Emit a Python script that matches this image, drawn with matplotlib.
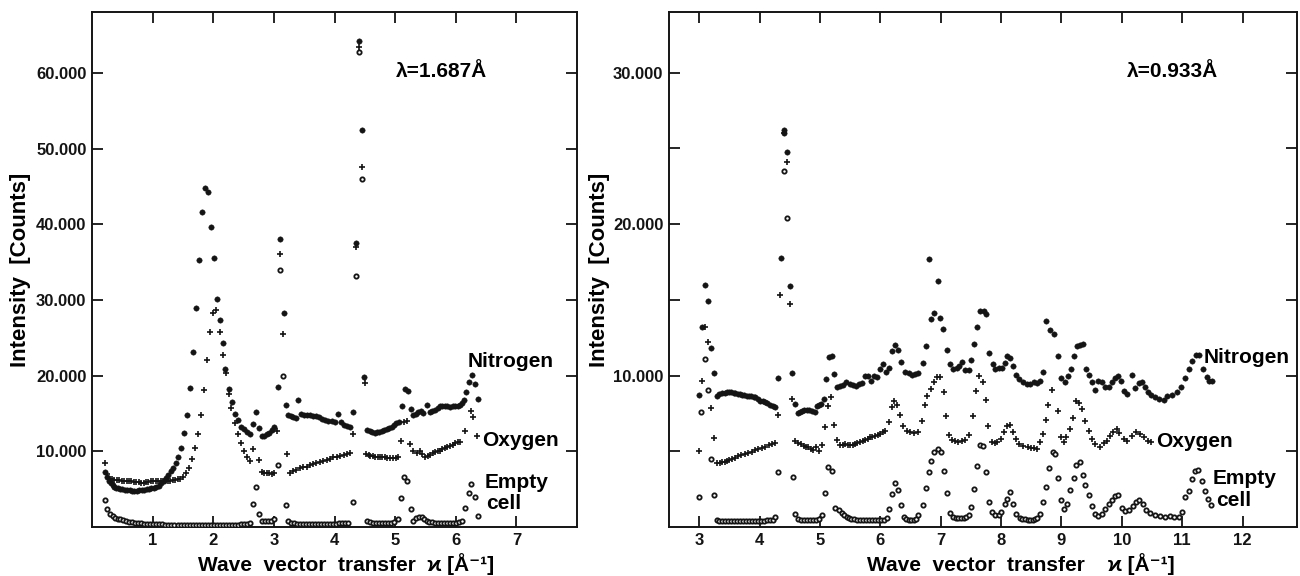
import numpy as np
import matplotlib
matplotlib.use('Agg')
import matplotlib.pyplot as plt

plt.rcParams['font.family'] = ['Liberation Sans Narrow', 'Liberation Sans', 'DejaVu Sans']
plt.rcParams['font.weight'] = 'bold'
plt.rcParams['axes.labelweight'] = 'bold'

INK = '#141414'

## left panel, lambda = 1.687 A : (kappa, counts)
n_left = [(0.22,7230),(0.25,6600),(0.28,6050),(0.31,5750),(0.34,5500),(0.37,5330),(0.40,5200),(0.43,5120),
    (0.46,5060),(0.50,4980),(0.54,4920),(0.58,4860),(0.62,4830),(0.66,4810),(0.70,4800),(0.74,4810),
    (0.78,4830),(0.82,4860),(0.86,4900),(0.90,4960),(0.94,5020),(0.98,5100),(1.02,5180),(1.06,5300),
    (1.10,5480),(1.14,5780),(1.18,6080),(1.22,6450),(1.26,6850),(1.30,7350),(1.34,7850),(1.38,8500),
    (1.42,9300),(1.46,10450),(1.51,12480),(1.56,14820),(1.61,18350),(1.66,23100),(1.71,28970),
    (1.76,35280),(1.81,41630),(1.86,44800),(1.91,44280),(1.96,39730),(2.01,35630),(2.06,30160),
    (2.11,27390),(2.16,24390),(2.20,20860),(2.26,18300),(2.31,16540),(2.36,14950),(2.40,14160),
    (2.45,13270),(2.50,12970),(2.55,12610),(2.61,12300),(2.66,13630),(2.70,15210),(2.76,13140),
    (2.80,12080),(2.84,12050),(2.88,12250),(2.92,12450),(2.96,12800),(3.00,13270),(3.06,18570),
    (3.10,38060),(3.16,28270),(3.20,16140),(3.24,14820),(3.28,14730),(3.32,14500),(3.36,14380),
    (3.40,16800),(3.45,14900),(3.50,14850),(3.55,14820),(3.60,14780),(3.65,14720),(3.70,14650),
    (3.75,14480),(3.80,14300),(3.85,14150),(3.90,14050),(3.95,13980),(4.00,13940),(4.05,14900),
    (4.10,13940),(4.15,13500),(4.20,13300),(4.25,13270),(4.30,15170),(4.36,37610),(4.41,64200),
    (4.445,52520),(4.49,19800),(4.54,12830),(4.58,12650),(4.62,12580),(4.66,12480),(4.70,12520),
    (4.74,12600),(4.78,12720),(4.82,12850),(4.86,12960),(4.90,13080),(4.94,13250),(4.98,13450),
    (5.02,13700),(5.06,13900),(5.11,16010),(5.17,18210),(5.21,18040),(5.26,15570),(5.30,14820),
    (5.34,14950),(5.38,15200),(5.42,15350),(5.46,15050),(5.52,16140),(5.57,15210),(5.61,15300),
    (5.66,15480),(5.70,15700),(5.74,16010),(5.78,16020),(5.82,16010),(5.86,15950),(5.91,15920),
    (5.95,15980),(5.99,16010),(6.03,16050),(6.07,16140),(6.10,16400),(6.13,16800),(6.17,17900),
    (6.21,19230),(6.26,20100),(6.31,18900),(6.36,16900)]

o_left = [(0.21,8420),(0.25,7000),(0.29,6350),(0.33,6280),(0.37,6240),(0.41,6210),(0.45,6170),(0.49,6130),
    (0.53,6100),(0.57,6080),(0.61,6050),(0.65,6020),(0.69,5980),(0.73,5950),(0.77,5920),(0.81,5880),
    (0.85,5870),(0.89,5920),(0.93,5990),(0.97,6020),(1.01,6040),(1.05,6040),(1.09,6040),(1.13,6040),
    (1.17,6050),(1.21,6080),(1.25,6110),(1.29,6140),(1.33,6180),(1.37,6220),(1.41,6280),(1.45,6350),
    (1.50,6660),(1.55,7100),(1.60,7850),(1.65,8950),(1.70,10400),(1.75,12260),(1.80,14860),
    (1.85,18130),(1.90,22050),(1.95,25750),(1.99,28360),(2.05,28710),(2.11,25840),(2.16,22710),
    (2.21,20420),(2.26,17550),(2.30,15700),(2.35,13800),(2.40,12300),(2.45,11160),(2.50,10010),
    (2.55,9300),(2.61,8730),(2.66,10280),(2.76,8860),(2.80,7320),(2.84,7200),(2.88,7150),(2.92,7100),
    (2.96,7020),(3.00,7200),(3.05,12700),(3.10,36120),(3.15,25530),(3.21,9660),(3.27,7190),
    (3.32,7410),(3.37,7580),(3.43,7760),(3.48,7870),(3.54,7980),(3.59,8150),(3.65,8330),(3.70,8480),
    (3.76,8640),(3.81,8750),(3.87,8860),(3.92,9000),(3.98,9220),(4.04,9300),(4.09,9450),(4.15,9500),
    (4.20,9620),(4.26,9750),(4.30,12300),(4.36,37060),(4.41,63500),(4.445,47590),(4.505,19000),
    (4.52,9660),(4.56,9550),(4.59,9440),(4.63,9380),(4.67,9310),(4.71,9260),(4.75,9220),(4.79,9220),
    (4.83,9220),(4.87,9150),(4.92,9080),(4.96,9080),(5.01,9080),(5.05,9200),(5.10,11380),
    (5.15,13940),(5.20,14070),(5.25,10980),(5.30,10000),(5.36,9830),(5.41,10060),(5.45,9600),
    (5.49,9310),(5.54,9400),(5.58,9530),(5.62,9750),(5.66,9970),(5.70,10050),(5.74,10100),
    (5.78,10250),(5.82,10410),(5.86,10550),(5.91,10720),(5.95,10900),(5.99,11070),(6.03,11180),
    (6.07,11290),(6.15,12670),(6.25,15320),(6.29,14530),(6.35,12000)]

e_left = [(0.21,3570),(0.25,2340),(0.30,1680),(0.34,1400),(0.38,1250),(0.42,1120),(0.46,1010),(0.51,900),
    (0.56,800),(0.61,710),(0.66,630),(0.71,560),(0.76,510),(0.81,470),(0.86,430),(0.91,400),(0.96,370),
    (1.01,350),(1.06,340),(1.11,330),(1.16,330),(1.21,320),(1.26,320),(1.31,310),(1.36,310),(1.41,300),
    (1.46,300),(1.51,300),(1.56,290),(1.61,300),(1.66,290),(1.71,300),(1.76,290),(1.81,300),(1.86,300),
    (1.91,290),(1.96,300),(2.01,300),(2.06,310),(2.11,300),(2.16,300),(2.21,310),(2.26,300),(2.31,310),
    (2.36,320),(2.41,320),(2.46,330),(2.51,340),(2.56,380),(2.61,520),(2.65,3040),(2.70,5340),
    (2.76,1680),(2.80,820),(2.85,760),(2.90,780),(2.95,850),(3.00,1010),(3.06,8200),(3.10,33960),
    (3.15,20020),(3.20,2870),(3.24,840),(3.28,560),(3.33,480),(3.38,450),(3.43,430),(3.48,420),
    (3.53,410),(3.58,400),(3.63,400),(3.68,410),(3.73,400),(3.78,410),(3.83,420),(3.88,420),(3.93,430),
    (3.98,440),(4.03,450),(4.08,470),(4.13,480),(4.18,500),(4.23,560),(4.30,3310),(4.36,33200),
    (4.41,62800),(4.445,46000),(4.54,840),(4.58,620),(4.63,560),(4.68,540),(4.73,530),(4.78,530),
    (4.83,540),(4.88,540),(4.93,560),(4.98,600),(5.05,1010),(5.10,3840),(5.15,6570),(5.20,6090),
    (5.26,2430),(5.30,840),(5.35,1230),(5.39,1370),(5.44,1280),(5.48,1000),(5.52,840),(5.56,680),
    (5.61,600),(5.66,560),(5.71,540),(5.76,530),(5.81,530),(5.86,540),(5.91,540),(5.96,550),(6.01,570),
    (6.06,620),(6.10,800),(6.15,2470),(6.21,4540),(6.25,5690),(6.32,4010),(6.37,1460)]

## right panel, lambda = 0.933 A
n_right = [(3.00,8720),(3.04,13200),(3.10,15960),(3.14,14920),(3.20,11830),(3.25,10170),(3.29,8670),
    (3.33,8750),(3.38,8830),(3.42,8870),(3.46,8890),(3.49,8890),(3.53,8880),(3.57,8870),(3.60,8850),
    (3.64,8810),(3.68,8770),(3.71,8740),(3.75,8700),(3.79,8680),(3.82,8670),(3.86,8630),(3.90,8590),
    (3.93,8560),(3.97,8450),(4.01,8340),(4.05,8290),(4.09,8230),(4.13,8160),(4.18,8080),(4.22,8010),
    (4.26,7950),(4.30,9820),(4.35,17770),(4.40,26220),(4.41,26000),(4.455,24740),(4.50,15890),
    (4.53,10170),(4.59,8120),(4.64,7500),(4.67,7600),(4.70,7680),(4.74,7720),(4.78,7750),(4.82,7720),
    (4.87,7680),(4.92,7570),(4.95,8010),(4.99,8050),(5.02,8120),(5.06,8450),(5.10,9780),(5.15,11210),
    (5.20,11280),(5.24,10110),(5.29,9230),(5.34,9340),(5.39,9380),(5.43,9560),(5.49,9450),(5.54,9380),
    (5.59,9290),(5.64,9450),(5.69,9510),(5.75,9950),(5.80,9950),(5.85,9670),(5.89,10000),(5.94,9890),
    (5.99,10400),(6.04,10770),(6.09,10220),(6.15,10510),(6.19,11590),(6.25,12030),(6.30,11700),
    (6.35,10880),(6.41,10220),(6.47,10150),(6.52,10040),(6.58,10110),(6.63,10150),(6.70,10810),
    (6.75,11920),(6.80,17660),(6.84,13750),(6.89,14120),(6.95,16220),(6.99,13820),(7.04,13040),
    (7.11,11700),(7.16,10770),(7.21,10400),(7.27,10510),(7.30,10620),(7.35,10880),(7.40,10370),
    (7.46,10370),(7.50,11000),(7.55,12100),(7.60,13200),(7.65,14260),(7.71,14260),(7.75,14040),
    (7.80,11480),(7.86,10790),(7.90,10440),(7.96,10480),(8.01,10480),(8.06,10840),(8.10,11280),
    (8.15,11150),(8.20,10660),(8.25,10060),(8.30,9780),(8.36,9600),(8.43,9450),(8.48,9450),(8.54,9560),
    (8.59,9490),(8.65,9670),(8.70,10220),(8.75,13590),(8.81,13020),(8.88,12760),(8.95,11260),
    (9.00,9840),(9.05,9600),(9.10,9950),(9.15,10440),(9.21,11280),(9.25,11940),(9.30,12030),
    (9.35,12090),(9.40,10440),(9.45,10060),(9.50,9560),(9.56,9050),(9.61,9620),(9.67,9600),(9.72,9230),
    (9.78,9230),(9.83,9560),(9.89,9820),(9.94,9950),(9.98,9670),(10.04,9000),(10.09,8780),
    (10.16,10040),(10.22,9160),(10.29,9510),(10.33,9560),(10.38,9230),(10.44,8890),(10.49,8720),
    (10.55,8560),(10.62,8450),(10.69,8410),(10.75,8670),(10.83,8740),(10.91,8890),(10.98,9230),
    (11.05,9820),(11.11,10440),(11.16,10930),(11.22,11370),(11.27,11370),(11.34,10440),(11.41,9890),
    (11.45,9670),(11.50,9620)]

o_right = [(3.00,4990),(3.04,9670),(3.09,13200),(3.14,12200),(3.20,7860),(3.25,5870),(3.30,4220),
    (3.34,4240),(3.37,4260),(3.42,4320),(3.46,4370),(3.50,4420),(3.54,4480),(3.60,4570),(3.65,4660),
    (3.70,4730),(3.76,4810),(3.81,4890),(3.87,4970),(3.92,5060),(3.98,5140),(4.04,5220),(4.09,5300),
    (4.15,5390),(4.20,5470),(4.26,5540),(4.30,7400),(4.34,15340),(4.40,26000),(4.455,24080),
    (4.505,14700),(4.53,8450),(4.59,5690),(4.64,5540),(4.68,5450),(4.73,5360),(4.77,5300),(4.81,5250),
    (4.85,5170),(4.88,5100),(4.94,5250),(4.99,5030),(5.03,5430),(5.09,6620),(5.14,8010),(5.18,8560),
    (5.24,6730),(5.28,5760),(5.33,5410),(5.38,5440),(5.42,5470),(5.46,5440),(5.50,5410),(5.54,5440),
    (5.58,5470),(5.62,5520),(5.67,5580),(5.71,5670),(5.75,5760),(5.79,5830),(5.83,5910),(5.87,5970),
    (5.91,6030),(5.96,6090),(6.00,6140),(6.04,6250),(6.08,6360),(6.14,6950),(6.19,7950),(6.23,8340),
    (6.28,8060),(6.33,7390),(6.38,6690),(6.44,6360),(6.49,6250),(6.56,6180),(6.63,6250),(6.69,7020),
    (6.74,8060),(6.78,8670),(6.84,9120),(6.89,9560),(6.94,9890),(6.99,9890),(7.05,8890),(7.08,7350),
    (7.13,6090),(7.18,5740),(7.24,5690),(7.29,5580),(7.35,5650),(7.40,5740),(7.46,6090),(7.54,7350),
    (7.59,9000),(7.64,10000),(7.70,9600),(7.75,8410),(7.79,6690),(7.85,5630),(7.90,5520),(7.94,5630),
    (7.99,5800),(8.04,6290),(8.09,6640),(8.15,6750),(8.19,6250),(8.25,5780),(8.30,5470),(8.37,5360),
    (8.45,5250),(8.50,5220),(8.54,5190),(8.59,5140),(8.65,5580),(8.69,6140),(8.75,7040),(8.78,8080),
    (8.85,9070),(8.94,7640),(9.00,5960),(9.04,5630),(9.08,5910),(9.14,6470),(9.19,7170),(9.24,8340),
    (9.29,8200),(9.34,7790),(9.39,6970),(9.45,6310),(9.50,5800),(9.56,5470),(9.63,5250),(9.70,5520),
    (9.75,5690),(9.81,6030),(9.86,6290),(9.92,6470),(9.96,6200),(10.03,5800),(10.09,5690),
    (10.16,6030),(10.24,6250),(10.30,6140),(10.37,5910),(10.44,5690),(10.49,5600)]

e_right = [(3.00,2010),(3.03,7610),(3.09,11100),(3.15,9070),(3.20,4480),(3.25,2100),(3.29,440),(3.33,420),
    (3.38,400),(3.43,390),(3.48,390),(3.53,380),(3.58,380),(3.63,380),(3.68,390),(3.73,390),(3.78,390),
    (3.83,400),(3.88,400),(3.93,410),(3.98,410),(4.03,420),(4.08,420),(4.13,430),(4.18,450),(4.22,480),
    (4.26,660),(4.30,3640),(4.40,23480),(4.45,20420),(4.55,3270),(4.59,840),(4.64,510),(4.69,470),
    (4.74,460),(4.79,460),(4.84,460),(4.89,460),(4.94,470),(4.99,520),(5.04,770),(5.09,2270),
    (5.14,3990),(5.20,3690),(5.25,1280),(5.31,1130),(5.36,900),(5.40,770),(5.44,690),(5.48,620),
    (5.52,560),(5.56,510),(5.61,480),(5.66,470),(5.71,460),(5.76,460),(5.81,460),(5.86,460),(5.91,460),
    (5.96,470),(6.01,470),(6.06,480),(6.11,600),(6.15,1210),(6.19,2210),(6.25,2890),(6.30,2430),
    (6.34,1430),(6.39,680),(6.43,530),(6.47,460),(6.51,460),(6.55,480),(6.59,560),(6.63,770),
    (6.70,1430),(6.75,2600),(6.80,3640),(6.84,4370),(6.89,4970),(6.95,5140),(7.00,4970),(7.05,3700),
    (7.10,2230),(7.16,950),(7.21,660),(7.25,620),(7.29,600),(7.33,610),(7.38,620),(7.42,680),(7.46,760),
    (7.50,1350),(7.55,2490),(7.60,4040),(7.65,5410),(7.70,5360),(7.75,3600),(7.80,1660),(7.85,1000),
    (7.90,820),(7.96,820),(8.00,990),(8.06,1500),(8.09,1880),(8.14,2340),(8.19,1550),(8.25,840),
    (8.31,620),(8.35,560),(8.40,510),(8.44,480),(8.48,460),(8.52,480),(8.56,510),(8.60,600),(8.65,840),
    (8.70,1660),(8.75,2650),(8.80,3880),(8.86,4970),(8.89,4810),(8.95,3220),(9.00,1790),(9.04,1170),
    (9.09,1540),(9.14,2430),(9.20,3220),(9.24,4100),(9.30,4260),(9.35,3420),(9.39,2760),(9.45,2100),
    (9.50,1390),(9.56,880),(9.61,730),(9.67,880),(9.72,1210),(9.78,1500),(9.83,1790),(9.89,2050),
    (9.94,2100),(10.00,1280),(10.05,1060),(10.11,1130),(10.18,1390),(10.24,1660),(10.29,1790),
    (10.35,1500),(10.40,1130),(10.47,900),(10.55,770),(10.63,730),(10.72,680),(10.80,730),(10.86,680),
    (10.94,690),(10.99,1000),(11.05,1950),(11.11,2380),(11.16,3160),(11.21,3710),(11.26,3760),
    (11.32,3050),(11.37,2380),(11.43,1830),(11.48,1430)]

left_xticks = [1, 2, 3, 4, 5, 6, 7]
left_yticks = [10000, 20000, 30000, 40000, 50000, 60000]
left_ylabels = ['10.000', '20.000', '30.000', '40.000', '50.000', '60.000']
right_xticks = [3, 4, 5, 6, 7, 8, 9, 10, 11, 12]
right_yticks = [10000, 20000, 30000]
right_ylabels = ['10.000', '20.000', '30.000']
right_yminor = [5000, 15000, 25000]


def split(points):
    k = np.array([p[0] for p in points])
    y = np.array([p[1] for p in points])
    return k, y


def draw_series(ax, nitrogen, oxygen, empty):
    # empty cell: small open rings, oxygen: plus signs, nitrogen: solid dots
    k, y = split(empty)
    ax.plot(k, y, ls='none', marker='o', ms=3.1, mfc='white', mec=INK, mew=1.3, zorder=3)
    k, y = split(oxygen)
    ax.plot(k, y, ls='none', marker='+', ms=3.8, mec=INK, mew=1.2, zorder=4)
    k, y = split(nitrogen)
    ax.plot(k, y, ls='none', marker='o', ms=3.9, mfc=INK, mec=INK, mew=0.3, zorder=5)


def style_axes(ax):
    for s in ax.spines.values():
        s.set_linewidth(1.4)
        s.set_color(INK)
    ax.tick_params(which='both', direction='in', top=True, right=True, length=8, width=1.3,
                   colors=INK, labelsize=12, pad=4)


fig = plt.figure(figsize=(13, 5.76), dpi=100)
ax1 = fig.add_axes([0.0708, 0.0851, 0.3731, 0.8941])
ax2 = fig.add_axes([0.5146, 0.0851, 0.4831, 0.8941])

## left
draw_series(ax1, n_left, o_left, e_left)
ax1.set_xlim(0, 8)
ax1.set_ylim(0, 68100)
ax1.set_xticks(left_xticks)
ax1.set_yticks(left_yticks)
ax1.set_yticklabels(left_ylabels)
style_axes(ax1)
ax1.set_ylabel('Intensity  [Counts]', fontsize=16)
ax1.yaxis.set_label_coords(-0.126, 0.5)
ax1.set_xlabel('Wave  vector  transfer  ϰ [Å⁻¹]', fontsize=15, va='top')
ax1.xaxis.set_label_coords(0.524, -0.05)
ax1.text(5.02, 60240, 'λ=1.687Å', fontsize=15, va='center', ha='left')
ax1.text(6.19, 21900, 'Nitrogen', fontsize=15, va='center', ha='left')
ax1.text(6.43, 11420, 'Oxygen', fontsize=15, va='center', ha='left')
ax1.text(6.48, 5860, 'Empty', fontsize=15, va='center', ha='left')
ax1.text(6.50, 3040, 'cell', fontsize=15, va='center', ha='left')

## right
draw_series(ax2, n_right, o_right, e_right)
ax2.set_xlim(2.5, 12.9)
ax2.set_ylim(0, 34000)
ax2.set_xticks(right_xticks)
ax2.set_yticks(right_yticks)
ax2.set_yticklabels(right_ylabels)
ax2.set_yticks(right_yminor, minor=True)
style_axes(ax2)
ax2.set_ylabel('Intensity  [Counts]', fontsize=16)
ax2.yaxis.set_label_coords(-0.094, 0.5)
ax2.set_xlabel('Wave  vector  transfer    ϰ [Å⁻¹]', fontsize=15, va='top')
ax2.xaxis.set_label_coords(0.561, -0.05)
ax2.text(10.09, 30080, 'λ=0.933Å', fontsize=15, va='center', ha='left')
ax2.text(11.36, 11170, 'Nitrogen', fontsize=15, va='center', ha='left')
ax2.text(10.57, 5650, 'Oxygen', fontsize=15, va='center', ha='left')
ax2.text(11.50, 3220, 'Empty', fontsize=15, va='center', ha='left')
ax2.text(11.56, 1770, 'cell', fontsize=15, va='center', ha='left')

fig.savefig('out.png', dpi=100)
